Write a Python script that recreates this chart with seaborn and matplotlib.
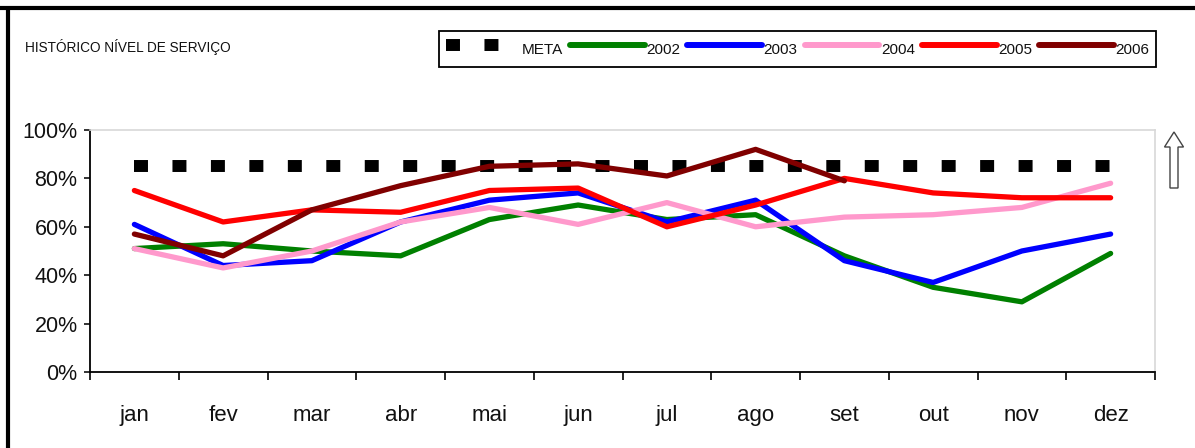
import matplotlib
matplotlib.use("Agg")
import matplotlib.pyplot as plt
from matplotlib.lines import Line2D
from matplotlib.patches import FancyArrow
import seaborn as sns
import pandas as pd
import numpy as np

# Monthly service level (%) by year, plus the target line
months = ["jan", "fev", "mar", "abr", "mai", "jun", "jul", "ago", "set", "out", "nov", "dez"]
meta = [85] * 12
y2002 = [51, 53, 50, 48, 63, 69, 63, 65, 48, 35, 29, 49]
y2003 = [61, 44, 46, 62, 71, 74, 62, 71, 46, 37, 50, 57]
y2004 = [51, 43, 50, 62, 68, 61, 70, 60, 64, 65, 68, 78]
y2005 = [75, 62, 67, 66, 75, 76, 60, 69, 80, 74, 72, 72]
y2006 = [57, 48, 67, 77, 85, 86, 81, 92, 79, None, None, None]

series = {"2002": y2002, "2003": y2003, "2004": y2004, "2005": y2005, "2006": y2006}
colors = {"2002": "#008000", "2003": "#0000FF", "2004": "#FF99CC",
          "2005": "#FF0000", "2006": "#800000"}
y_ticks = [0, 20, 40, 60, 80, 100]
y_labels = ["0%", "20%", "40%", "60%", "80%", "100%"]

rows = []
for year, vals in series.items():
    for m, v in zip(months, vals):
        rows.append({"mes": m, "nivel": v, "ano": year})
df = pd.DataFrame(rows).dropna()

sns.set_theme(style="white")
plt.rcParams["font.family"] = ["Liberation Sans", "DejaVu Sans"]

W, H = 1195, 448
fig = plt.figure(figsize=(W / 100, H / 100), dpi=100)
fig.patch.set_facecolor("white")
ax = fig.add_axes([90 / W, 1 - 372 / H, (1155 - 90) / W, (372 - 130) / H])

meta_style = (0, (1.17, 2.05))
sns.lineplot(x=months, y=meta, ax=ax, color="black", linewidth=8.6,
             linestyle=meta_style, dash_capstyle="butt", sort=False)
sns.lineplot(data=df, x="mes", y="nivel", hue="ano", palette=colors, ax=ax,
             linewidth=3.8, sort=False, legend=False)

ax.set_xlim(-0.5, 11.5)
ax.set_ylim(0, 100)
ax.set_xlabel("")
ax.set_ylabel("")
ax.set_yticks(y_ticks)
ax.set_yticklabels(y_labels)
ax.set_xticks(range(len(months)))
ax.set_xticklabels(months)
ax.set_xticks(np.arange(-0.5, 12, 1.0), minor=True)
ax.tick_params(axis="x", which="major", length=0, pad=24, labelsize=16, colors="#111111")
ax.tick_params(axis="x", which="minor", length=6, width=1.2, direction="out",
               color="black", bottom=True)
ax.tick_params(axis="y", which="major", length=4, width=1.2, direction="out",
               pad=5, labelsize=15.5, colors="#111111", left=True)
ax.grid(False)
for side in ("left", "bottom"):
    ax.spines[side].set_color("black")
    ax.spines[side].set_linewidth(1.3)
for side in ("top", "right"):
    ax.spines[side].set_color("#D8D8D8")
    ax.spines[side].set_linewidth(1.2)

# Title
fig.text(25 / W, 1 - 47 / H, "HISTÓRICO NÍVEL DE SERVIÇO", fontsize=9.8,
         ha="left", va="center", color="#111111")

# Legend row
handles = [Line2D([], [], color="black", linewidth=8.6, linestyle=meta_style,
                  dash_capstyle="butt")]
labels = ["META"]
for year in series:
    handles.append(Line2D([], [], color=colors[year], linewidth=4.3,
                          solid_capstyle="round"))
    labels.append(year)
leg = fig.legend(handles, labels, ncol=6, loc="center",
                 bbox_to_anchor=(797.5 / W, 1 - 49 / H), frameon=True,
                 fancybox=False, edgecolor="black", framealpha=1,
                 fontsize=11, handlelength=4.9, handletextpad=0.1,
                 columnspacing=0.45, borderpad=0.4, handleheight=2.1,
                 borderaxespad=0)
leg.get_frame().set_linewidth(1.3)
for t in leg.get_texts():
    t.set_color("#111111")

# Outer frame strokes (top and left)
fig.add_artist(Line2D([0, 1], [1 - 8 / H, 1 - 8 / H], color="black", linewidth=3,
                      transform=fig.transFigure))
fig.add_artist(Line2D([8 / W, 8 / W], [0, 1 - 8 / H], color="black", linewidth=3,
                      transform=fig.transFigure))

# Upward arrow beside the plot
fig.add_artist(FancyArrow(11.74, (H - 188) / 100, 0, (188 - 132) / 100,
                          width=0.08, head_width=0.19, head_length=0.15,
                          length_includes_head=True, facecolor="white",
                          edgecolor="#444444", linewidth=1.0,
                          transform=fig.dpi_scale_trans))

fig.savefig("out.png", dpi=100, facecolor="white")
